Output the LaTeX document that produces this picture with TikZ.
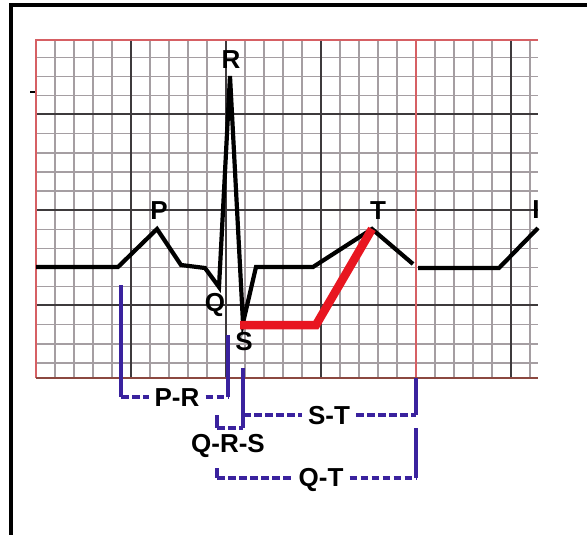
\documentclass[tikz,border=0pt]{standalone}
\usepackage{fontspec}
\setmainfont{Liberation Sans}
\usetikzlibrary{positioning}
\usepackage{xcolor}
\definecolor{gridminor}{RGB}{165,158,162}
\definecolor{gridmajor}{RGB}{62,58,60}
\definecolor{gridred}{RGB}{214,96,100}
\definecolor{gridbottom}{RGB}{140,72,64}
\definecolor{ecgred}{RGB}{232,22,32}
\definecolor{brkblue}{RGB}{58,34,158}

\begin{document}
\begin{tikzpicture}[x=1pt, y=-1pt,
      minor/.style={draw=gridminor, line width=1.4pt},
      major/.style={draw=gridmajor, line width=2pt},
      trace/.style={draw=black, line width=4.2pt, line join=miter},
      seg/.style={draw=ecgred, line width=8.5pt},
      lbl/.style={font=\fontsize{26}{26}\selectfont\bfseries, inner sep=0pt},
      brk/.style={draw=brkblue, line width=3.6pt},
      brkd/.style={brk, dash pattern=on 7.5pt off 3.5pt},
    ]
    \useasboundingbox (0,0) rectangle (587,535);

    % outer frame (top and left only)
    \draw[line width=3.4pt] (11,535) -- (11,5) -- (587,5);

    % ecg paper
    \foreach \x in {55,74,...,530} \draw[minor] (\x,40) -- (\x,378);
    \foreach \y in {57.3,76.4,...,365} \draw[minor] (36,\y) -- (538,\y);
    \foreach \x in {131,226,321,511} \draw[major] (\x,40) -- (\x,378);
    \foreach \y in {114.5,209.8,305.1} \draw[major] (36,\y) -- (538,\y);
    \draw[gridred, line width=1.5pt] (416,40) -- (416,378);
    \draw[gridred, line width=2pt] (538,40) -- (36,40) -- (36,378);
    \draw[gridbottom, line width=2pt] (36,378) -- (538,378);
    \draw[line width=1.5pt] (30,92) -- (35,92);

    % trace
    \coordinate (p) at (157,229);
    \coordinate (q) at (219,287);
    \coordinate (r) at (230,76);
    \coordinate (s) at (243,323);
    \coordinate (t) at (372,229);
    \draw[trace] (36,267) -- (118,267) -- (p) -- (181,265) -- (205,268) -- (q)
      -- (r) -- (s) -- (256,267) -- (313,267) -- (t) -- (413,264);
    \draw[trace] (418,268) -- (499,268) -- (538,228);

    % S-T segment
    \coordinate (sx) at (316,325);
    \draw[seg] (240,325) -- (sx) -- (t);

    % wave letters
    \node[lbl] (lR) at (231,60) {R};
    \node[lbl] (lP) at (159,211) {P};
    \node[lbl] (lQ) at (215,305) {Q};
    \node[lbl] (lS) at (244,342) {S};
    \node[lbl] (lT) at (378,211) {T};
    \node[lbl] (lI) at (536,210) {I};

    % interval labels
    \node[lbl] (pr) at (177,398) {P-R};
    \node[lbl] (qrs) at (228,446) {Q-R-S};
    \node[lbl] (st) at (329,416) {S-T};
    \node[lbl] (qt) at (321,480) {Q-T};

    % P-R bracket
    \draw[brk] (121,285) -- (121,397);
    \draw[brkd] (121,397) -- ([xshift=-5pt]pr.west |- 0,397);
    \draw[brkd] ([xshift=6pt]pr.east |- 0,397) -- (228,397);
    \draw[brk] (228,397) -- (228,335);

    % Q-R-S bracket
    \draw[brk] (217,415) -- (217,428);
    \draw[brkd] (217,428) -- (243,428);
    \draw[brk] (243,428) -- (243,368);

    % S-T bracket
    \draw[brkd] (243,415) -- ([xshift=-6pt]st.west |- 0,415);
    \draw[brkd] ([xshift=6pt]st.east |- 0,415) -- (416,415);
    \draw[brk] (416,415) -- (416,378);

    % Q-T bracket
    \draw[brk] (217,468) -- (217,478);
    \draw[brkd] (217,478) -- ([xshift=-6pt]qt.west |- 0,478);
    \draw[brkd] ([xshift=6pt]qt.east |- 0,478) -- (416,478);
    \draw[brk] (416,478) -- (416,428);
  \end{tikzpicture}
\end{document}
